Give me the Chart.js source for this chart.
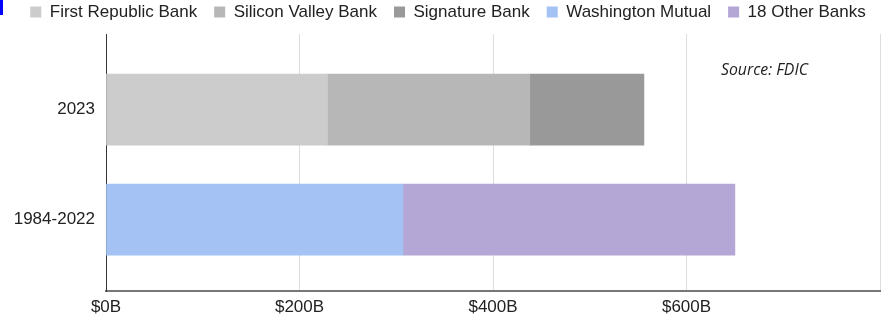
<!DOCTYPE html>
<html>
<head>
<meta charset="utf-8">
<script src="https://cdn.jsdelivr.net/npm/chart.js@4/dist/chart.umd.min.js"></script>
<style>
  html, body { margin: 0; padding: 0; background: #fff; }
  #wrap { position: relative; width: 886px; height: 320px; }
  #mark { position: absolute; left: 0; top: 0; width: 3px; height: 15px; background: #0000ff; }
</style>
</head>
<body>
<div id="wrap">
  <canvas id="c" width="886" height="320"></canvas>
  <div id="mark"></div>
</div>
<script>
const categories = ['2023', '1984-2022'];
const seriesNames = ['First Republic Bank', 'Silicon Valley Bank', 'Signature Bank', 'Washington Mutual', '18 Other Banks'];
const firstRepublic = [229, null];
const siliconValley = [209, null];
const signature = [118, null];
const washingtonMutual = [null, 307];
const otherBanks = [null, 343];
const xTicks = [0, 200, 400, 600, 800];
const xTickLabels = ['$0B', '$200B', '$400B', '$600B', ''];
const sourceNote = 'Source: FDIC';

const colors = ['#cccccc', '#b7b7b7', '#999999', '#a4c2f4', '#b4a7d6'];
const seriesValues = [firstRepublic, siliconValley, signature, washingtonMutual, otherBanks];

const legendPatch = {
  id: 'legendPatch',
  beforeLayout(chart) {
    const lg = chart.legend;
    if (lg && !lg._patched) {
      const origFit = lg.fit;
      lg.fit = function () { origFit.call(this); this.height += 3.5; };
      const origDraw = lg.draw;
      lg.draw = function () {
        const ctx = this.ctx;
        ctx.save();
        ctx.translate(7, 0);
        origDraw.call(this);
        ctx.restore();
      };
      lg._patched = true;
    }
  }
};

const sourcePlugin = {
  id: 'sourceNote',
  afterDraw(chart) {
    const ctx = chart.ctx;
    ctx.save();
    ctx.font = 'italic 15.8px "Open Sans"';
    ctx.fillStyle = '#222222';
    ctx.textBaseline = 'alphabetic';
    ctx.textAlign = 'left';
    ctx.fillText(sourceNote, 721, 75);
    ctx.restore();
  }
};

new Chart(document.getElementById('c'), {
  type: 'bar',
  data: {
    labels: categories,
    datasets: seriesNames.map((name, i) => ({
      label: name,
      data: seriesValues[i],
      backgroundColor: colors[i],
      borderWidth: 0
    }))
  },
  options: {
    indexAxis: 'y',
    responsive: false,
    animation: false,
    devicePixelRatio: 1,
    layout: { padding: { top: -13.5, right: 4, bottom: 0, left: 0 } },
    datasets: { bar: { barThickness: 71 } },
    plugins: {
      tooltip: { enabled: false },
      legend: {
        position: 'top',
        align: 'center',
        labels: {
          boxWidth: 11,
          boxHeight: 11,
          padding: 17,
          color: '#222222',
          font: { family: 'Arial, "Liberation Sans"', size: 17 }
        }
      }
    },
    scales: {
      x: {
        stacked: true,
        min: 0,
        max: 800,
        afterBuildTicks: (s) => { s.ticks = xTicks.map(v => ({ value: v })); },
        afterFit: (s) => { s.height = 29; },
        ticks: {
          padding: 6,
          color: '#222222',
          font: { family: 'Arial, "Liberation Sans"', size: 17 },
          maxRotation: 0,
          autoSkip: false,
          callback: (v) => { const k = xTicks.indexOf(v); return k >= 0 ? xTickLabels[k] : ''; }
        },
        grid: { color: '#dddddd', lineWidth: 1, drawTicks: false },
        border: { display: true, color: '#777777', width: 2 }
      },
      y: {
        stacked: true,
        afterFit: (s) => { s.width = 106; },
        afterBuildTicks: (s) => { s._valueRange = 2.3386; s._startValue = -0.6885; },
        ticks: {
          padding: 11,
          color: '#222222',
          font: { family: 'Arial, "Liberation Sans"', size: 17 }
        },
        grid: { display: true, drawOnChartArea: false, drawTicks: false },
        border: { display: true, color: '#333333', width: 1 }
      }
    }
  },
  plugins: [legendPatch, sourcePlugin]
});
</script>
</body>
</html>
